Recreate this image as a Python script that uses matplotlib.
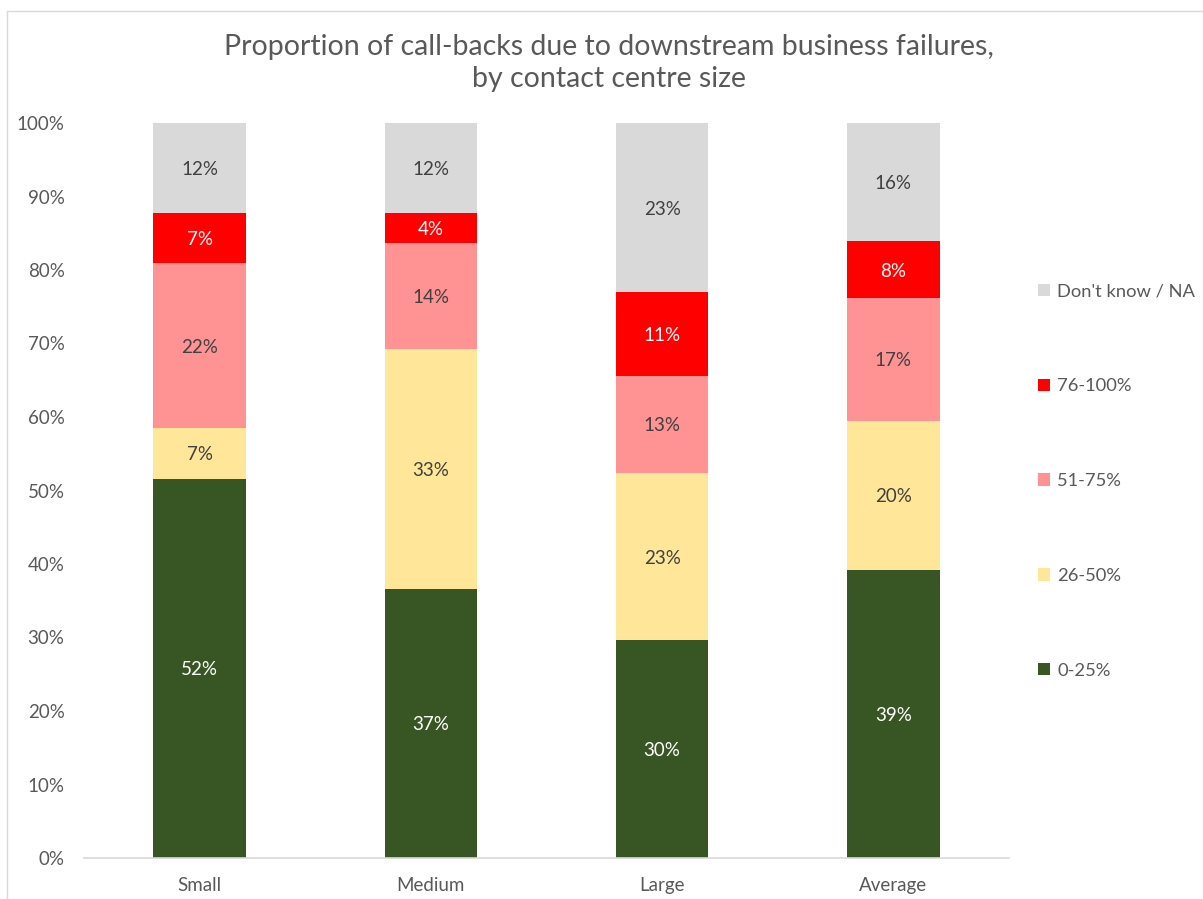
import matplotlib
matplotlib.use("Agg")
from matplotlib import pyplot as plt
from matplotlib.patches import Patch
from matplotlib.lines import Line2D
import numpy as np

plt.rcParams['font.family'] = ['Lato', 'DejaVu Sans']

# share of respondents per call-back band, in %
sizes = ['Small', 'Medium', 'Large', 'Average']
bands = ['0-25%', '26-50%', '51-75%', '76-100%', "Don't know / NA"]
pct_0_25 = [51.6, 36.6, 29.6, 39.2]
pct_26_50 = [6.9, 32.7, 22.8, 20.3]
pct_51_75 = [22.4, 14.4, 13.2, 16.7]
pct_76_100 = [6.9, 4.1, 11.4, 7.7]
pct_dont_know = [12.2, 12.2, 23.0, 16.1]

colors = ['#375623', '#FFE699', '#FF9393', '#FF0000', '#D9D9D9']
label_colors = ['white', '#404040', '#404040', 'white', '#404040']
grey = '#595959'
fs = 13.5

W, H = 1203, 899
fig = plt.figure(figsize=(W / 100, H / 100), dpi=100)
ax = fig.add_axes([84 / W, (H - 858) / H, (1009 - 84) / W, (858 - 123) / H])

x = np.arange(len(sizes))
bottom = np.zeros(len(sizes))
series = [pct_0_25, pct_26_50, pct_51_75, pct_76_100, pct_dont_know]
for vals, col, lcol in zip(series, colors, label_colors):
    vals = np.array(vals)
    ax.bar(x, vals, width=0.4, bottom=bottom, color=col, linewidth=0)
    for xi, b, v in zip(x, bottom, vals):
        ax.text(xi, b + v / 2, f"{v:.0f}%", ha='center', va='center_baseline',
                fontsize=fs, color=lcol)
    bottom += vals

ax.set_xlim(-0.5, len(sizes) - 0.5)
ax.set_ylim(0, 100)
ax.set_yticks(np.arange(0, 101, 10))
ax.set_yticklabels([f"{t}%" for t in range(0, 101, 10)])
ax.set_xticks(x)
ax.set_xticklabels(sizes)
ax.tick_params(axis='both', length=0, labelsize=fs, colors=grey)
ax.tick_params(axis='y', pad=14)
ax.tick_params(axis='x', pad=14)
for s in ['top', 'right', 'left']:
    ax.spines[s].set_visible(False)
ax.spines['bottom'].set_color('#D9D9D9')
ax.spines['bottom'].set_linewidth(1.2)

fig.text(609 / W, 1 - 63 / H,
         "Proportion of call-backs due to downstream business failures,\nby contact centre size",
         ha='center', va='center', fontsize=20.5, color=grey, linespacing=1.3)

handles = [Patch(facecolor=c, edgecolor='none') for c in colors][::-1]
fig.legend(handles, bands[::-1], loc='center left',
           bbox_to_anchor=(1038 / W, 1 - 481 / H), frameon=False,
           fontsize=13.2, labelcolor=grey, handlelength=0.65, handleheight=0.65,
           handletextpad=0.4, labelspacing=4.3, borderpad=0, borderaxespad=0)

# chart area border (left and top edges)
fig.add_artist(Line2D([7 / W, 7 / W, 1], [0, 1 - 11 / H, 1 - 11 / H],
                      transform=fig.transFigure, color='#D9D9D9', linewidth=1))

fig.savefig('out.png', dpi=100)
